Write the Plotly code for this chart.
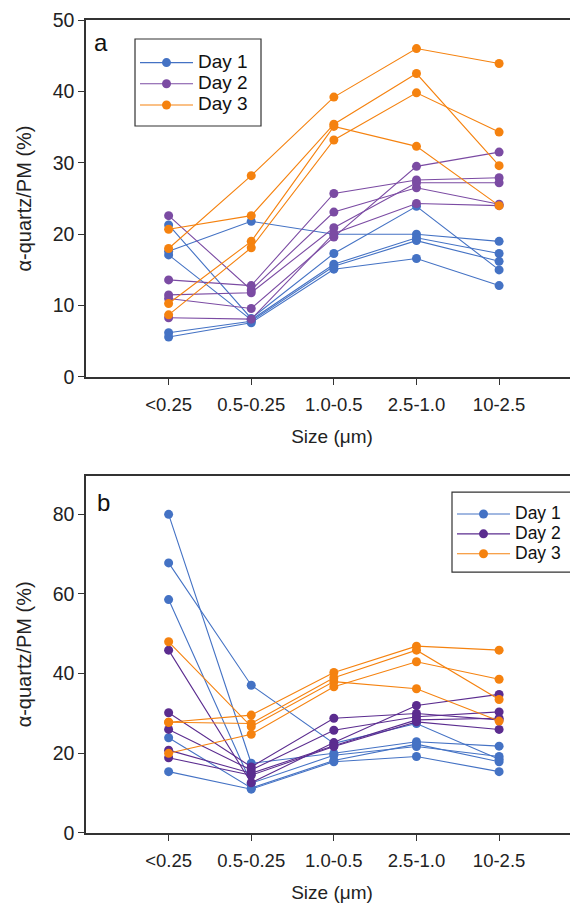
import plotly.graph_objects as go

categories = ["<0.25", "0.5-0.25", "1.0-0.5", "2.5-1.0", "10-2.5"]
xpos = [0, 1, 2, 3, 4]

# Panel a
a_day1 = [
    [21.3, 8.2, 17.3, 23.9, 15.0],
    [17.6, 21.8, 20.0, 20.0, 19.0],
    [17.1, 8.0, 15.8, 19.5, 17.3],
    [6.2, 7.8, 15.5, 19.1, 16.2],
    [5.6, 7.6, 15.1, 16.6, 12.8],
]
a_day2 = [
    [22.6, 12.2, 23.1, 26.5, 24.2],
    [13.6, 12.8, 25.7, 27.6, 27.9],
    [11.5, 11.8, 20.9, 27.2, 27.2],
    [11.0, 9.6, 19.6, 29.5, 31.5],
    [8.3, 8.1, 20.1, 24.3, 24.0],
]
a_day3 = [
    [18.0, 28.2, 39.2, 46.0, 43.9],
    [20.7, 22.6, 35.4, 42.5, 29.6],
    [10.3, 19.0, 35.1, 32.3, 24.0],
    [8.7, 18.1, 33.2, 39.8, 34.3],
]

# Panel b
b_day1 = [
    [80.0, 17.5, 20.0, 22.9, 21.8],
    [67.8, 37.1, 22.5, 27.5, 18.5],
    [58.6, 12.5, 19.5, 21.7, 19.2],
    [23.9, 11.3, 18.2, 22.3, 17.9],
    [15.4, 11.0, 17.9, 19.2, 15.4],
]
b_day2 = [
    [45.9, 12.6, 22.7, 32.0, 34.8],
    [30.2, 16.6, 28.8, 30.0, 28.4],
    [26.0, 15.8, 25.8, 29.2, 30.4],
    [20.8, 15.0, 21.9, 28.4, 28.8],
    [18.9, 14.5, 21.7, 27.9, 26.0],
]
b_day3 = [
    [48.0, 26.7, 38.0, 36.2, 28.1],
    [27.8, 29.6, 40.3, 46.9, 45.9],
    [27.8, 27.5, 39.0, 45.9, 33.5],
    [20.0, 24.8, 36.7, 43.0, 38.6],
]

a_yticks = [0, 10, 20, 30, 40, 50]
b_yticks = [0, 20, 40, 60, 80]
day_names = ["Day 1", "Day 2", "Day 3"]

BLUE = "#4472C4"
PURPLE_A = "#7B4BA3"
PURPLE_B = "#5B2C8F"
ORANGE = "#F5820F"
FONT = "Liberation Sans, Arial, sans-serif"
AX = "#333333"

fig = go.Figure()


def add_group(series, name, color, xa, ya, legend, label_px):
    for i, vals in enumerate(series):
        fig.add_trace(go.Scatter(
            x=xpos, y=vals, mode="lines+markers",
            name=f"<span style='font-size:{label_px}px'>{name}</span>",
            showlegend=(i == 0), legend=legend,
            line=dict(color=color, width=1.1),
            marker=dict(color=color, size=9),
            xaxis=xa, yaxis=ya,
        ))


add_group(a_day1, day_names[0], BLUE, "x", "y", "legend", 19)
add_group(a_day2, day_names[1], PURPLE_A, "x", "y", "legend", 19)
add_group(a_day3, day_names[2], ORANGE, "x", "y", "legend", 19)
add_group(b_day1, day_names[0], BLUE, "x2", "y2", "legend2", 17.5)
add_group(b_day2, day_names[1], PURPLE_B, "x2", "y2", "legend2", 17.5)
add_group(b_day3, day_names[2], ORANGE, "x2", "y2", "legend2", 17.5)

xcommon = dict(
    range=[-1, 4.955], tickvals=xpos, ticktext=categories,
    showline=True, linecolor=AX, linewidth=1.5, mirror=True,
    ticks="outside", ticklen=6, tickcolor=AX, tickwidth=1.2,
    showgrid=False, zeroline=False, automargin=False,
    ticklabelstandoff=4,
    tickfont=dict(size=18.5, color="#222"),
    title=dict(text="Size (μm)", font=dict(size=19, color="#222"), standoff=16),
    domain=[0, 1],
)
ycommon = dict(
    showline=True, linecolor=AX, linewidth=1.5, mirror=False,
    ticks="outside", ticklen=6, tickcolor=AX, tickwidth=1.2,
    showgrid=False, zeroline=False, automargin=False,
    tickfont=dict(size=19.5, color="#222"),
    title=dict(text="α-quartz/PM (%)", font=dict(size=20, color="#222"), standoff=16),
)

# legend frames (drawn as rectangles so their padding matches the reference)
legend_frames = [
    dict(x0=0.0996, x1=0.3557, y0=0.8696, y1=0.9766),
    dict(x0=0.7439, x1=0.9980, y0=0.3210, y1=0.4194),
]
shapes = [
    dict(type="rect", xref="paper", yref="paper", layer="below",
         line=dict(color=AX, width=1.2), fillcolor="white", **f)
    for f in legend_frames
]

# page body has an 8px margin: figure is sized/offset to compensate
fig.update_layout(
    width=570, height=899,
    margin=dict(l=78, r=0, t=12, b=74),
    paper_bgcolor="white", plot_bgcolor="white",
    font=dict(family=FONT, color="#222"),
    xaxis=dict(**xcommon, anchor="y"),
    xaxis2=dict(**xcommon, anchor="y2"),
    yaxis=dict(**ycommon, domain=[0.5609, 1], range=[0, 50], tickvals=a_yticks, anchor="x"),
    yaxis2=dict(**ycommon, domain=[0, 0.4395], range=[0, 89.7], tickvals=b_yticks, anchor="x2"),
    legend=dict(
        x=0.0996, y=0.9668, xanchor="left", yanchor="top",
        bgcolor="rgba(0,0,0,0)", borderwidth=0,
        font=dict(size=14, family=FONT, color="#111"),
        itemwidth=53, tracegroupgap=0,
    ),
    legend2=dict(
        x=0.7439, y=0.4108, xanchor="left", yanchor="top",
        bgcolor="rgba(0,0,0,0)", borderwidth=0,
        font=dict(size=13, family=FONT, color="#111"),
        itemwidth=53, tracegroupgap=0,
    ),
    showlegend=True,
    shapes=shapes,
    annotations=[
        dict(text="a", x=0.012, y=0.9356, xref="x domain", yref="y domain",
             xanchor="left", yanchor="middle", showarrow=False,
             font=dict(size=24, family=FONT, color="#111")),
        dict(text="b", x=0.018, y=0.9236, xref="x2 domain", yref="y2 domain",
             xanchor="left", yanchor="middle", showarrow=False,
             font=dict(size=24, family=FONT, color="#111")),
    ],
)

fig.write_html("out.html")
